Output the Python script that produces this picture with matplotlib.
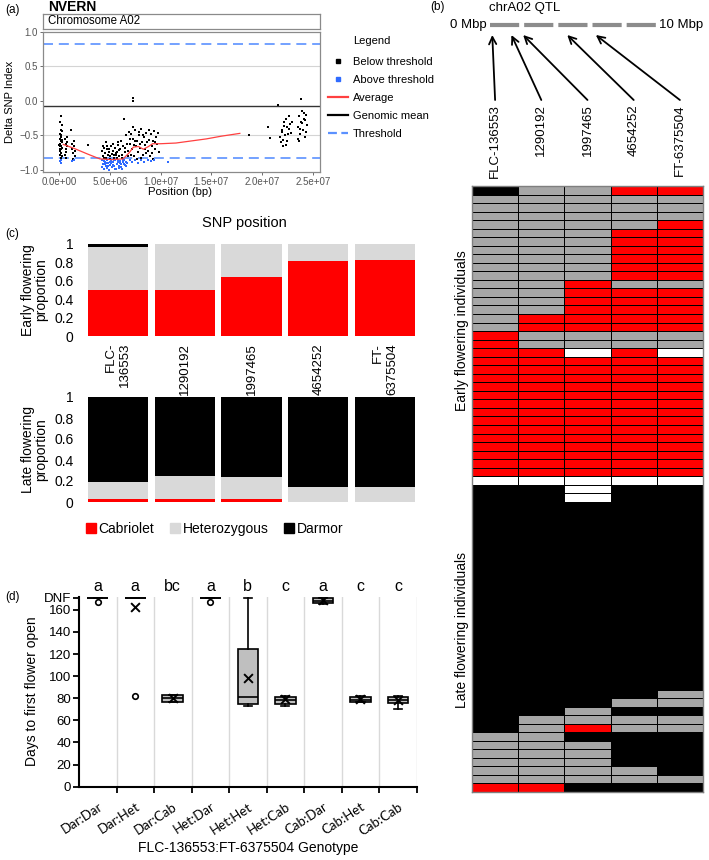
import numpy as np
import matplotlib
matplotlib.use('Agg')
import matplotlib.pyplot as plt
from matplotlib.colors import ListedColormap
from matplotlib.lines import Line2D

plt.rcParams['font.family'] = ['Liberation Sans', 'DejaVu Sans']

W, H = 709, 860


def box(l, t, r, b):
    # pixel box -> figure fraction rect
    return [l / W, 1 - b / H, (r - l) / W, (b - t) / H]


# ---------------- data ----------------
# (a) delta SNP index along chromosome A02 (position in Mbp)
below_x = [0.05, 0.08, 0.10, 0.12, 0.15, 0.18, 0.20, 0.22, 0.25, 0.28, 0.06, 0.14, 0.24, 0.30, 0.10, 0.20,
           0.05, 0.17, 0.27, 0.09, 0.13, 0.21, 0.26, 0.02,
           0.60, 0.65, 0.70, 0.75, 0.60, 0.70, 0.80, 0.65, 0.80,
           1.20, 1.25, 1.30, 1.40, 1.50, 1.55, 1.35, 1.45, 1.60, 2.85,
           4.2, 4.3, 4.4, 4.5, 4.6, 4.7, 4.8, 4.9, 5.0, 5.1, 5.2, 5.3, 5.4, 5.5, 5.6, 5.7, 5.8, 5.9,
           4.35, 4.65, 4.95, 5.25, 5.55, 5.85, 4.45, 5.05, 5.65, 4.75, 5.35, 5.75,
           6.0, 6.1, 6.2, 6.3, 6.4, 6.5, 6.6, 6.7, 6.8, 6.9, 6.15, 6.45, 6.75, 6.95,
           7.0, 7.1, 7.2, 7.3, 7.4, 7.5, 7.6, 7.7, 7.8, 7.9, 8.0, 8.1, 8.2, 8.3, 8.4, 8.5, 8.6, 8.7,
           8.8, 8.9, 9.0, 9.1, 9.2, 9.3, 9.4, 9.5, 9.6, 9.7, 9.8, 7.05, 7.35, 7.65, 7.95, 8.25, 8.55,
           8.85, 9.15, 9.45, 7.45, 8.05, 8.65, 9.25, 7.25, 7.85, 8.45, 7.3, 7.3,
           18.7, 20.6, 20.8, 21.6, 23.8,
           21.8, 21.9, 22.0, 22.1, 22.2, 22.3, 22.4, 22.5, 22.6, 22.7, 22.8, 22.9, 22.05, 22.25,
           22.45, 22.65, 22.15, 22.35, 21.95,
           23.5, 23.6, 23.7, 23.8, 23.9, 24.0, 24.1, 24.2, 24.3, 24.4, 23.55, 23.75, 23.95, 24.15,
           24.35, 23.65, 24.25]
below_y = [-0.55, -0.62, -0.48, -0.70, -0.58, -0.66, -0.52, -0.75, -0.60, -0.68, -0.78, -0.82, -0.44, -0.35,
           -0.30, -0.22, -0.72, -0.50, -0.80, -0.65, -0.42, -0.70, -0.56, -0.64,
           -0.55, -0.62, -0.70, -0.60, -0.78, -0.82, -0.66, -0.74, -0.52,
           -0.42, -0.62, -0.70, -0.76, -0.66, -0.80, -0.84, -0.58, -0.72, -0.64,
           -0.72, -0.80, -0.68, -0.76, -0.82, -0.70, -0.78, -0.74, -0.80, -0.66, -0.77, -0.72, -0.82,
           -0.68, -0.79, -0.74, -0.64, -0.80,
           -0.66, -0.60, -0.70, -0.63, -0.76, -0.71, -0.83, -0.84, -0.83, -0.65, -0.79, -0.60,
           -0.70, -0.58, -0.78, -0.66, -0.26, -0.74, -0.50, -0.62, -0.80, -0.45, -0.82, -0.68, -0.72,
           -0.55,
           -0.62, -0.48, -0.70, -0.55, -0.80, -0.42, -0.66, -0.58, -0.74, -0.50, -0.68, -0.40, -0.60,
           -0.78, -0.52, -0.64, -0.46, -0.72,
           -0.56, -0.80, -0.48, -0.66, -0.58, -0.44, -0.70, -0.52, -0.62, -0.47, -0.74, -0.78, -0.64,
           -0.84, -0.62, -0.50, -0.76,
           -0.42, -0.76, -0.60, -0.58, -0.82, -0.60, -0.84, -0.38, -0.45, -0.70, 0.04, 0.00,
           -0.49, -0.38, -0.54, -0.06, 0.03,
           -0.52, -0.60, -0.42, -0.56, -0.30, -0.64, -0.38, -0.48, -0.22, -0.34, -0.46, -0.30, -0.66,
           -0.50, -0.58, -0.40, -0.36, -0.26, -0.45,
           -0.38, -0.22, -0.48, -0.30, -0.15, -0.42, -0.26, -0.52, -0.20, -0.35, -0.55, -0.40, -0.32,
           -0.18, -0.45, -0.58, -0.28]
above_x = [0.10, 0.15, 0.22, 1.30, 1.50,
           4.2, 4.3, 4.4, 4.5, 4.6, 4.7, 4.8, 4.9, 5.0, 5.1, 5.2, 5.3, 5.4, 5.5, 5.6, 5.7, 5.8, 5.9,
           6.0, 6.1, 6.2, 6.3, 6.4, 6.5, 6.6, 6.7, 4.25, 4.55, 4.85, 5.15, 5.45, 5.75, 6.05, 6.35,
           4.45, 4.75, 5.05, 5.35, 5.65, 5.95, 6.25, 6.55, 4.65, 5.25, 5.85,
           7.0, 7.2, 7.5, 7.8, 8.1, 8.4, 8.7, 9.0, 9.3, 10.7]
above_y = [-0.87, -0.90, -0.86, -0.87, -0.86,
           -0.86, -0.92, -0.98, -0.88, -0.95, -0.85, -0.90, -1.00, -0.93, -0.87, -0.96, -0.89, -0.94,
           -0.86, -0.99, -0.91, -0.88, -0.95,
           -0.87, -0.92, -0.98, -0.89, -0.85, -0.93, -0.88, -0.90, -0.96, -0.91, -0.94, -0.90, -0.98,
           -0.85, -0.96, -0.91,
           -0.87, -0.97, -0.88, -0.86, -0.92, -0.90, -0.86, -0.95, -0.90, -0.93, -0.97,
           -0.86, -0.88, -0.85, -0.90, -0.86, -0.88, -0.85, -0.87, -0.86, -0.89]
avg_x = [0.4, 1.5, 2.8, 4.0, 5.2, 6.3, 6.9, 7.3, 7.8, 8.3, 8.8, 9.2, 10.0, 11.5, 13.0, 14.5, 16.0, 17.8]
avg_y = [-0.63, -0.69, -0.77, -0.84, -0.85, -0.84, -0.75, -0.67, -0.66, -0.70, -0.66, -0.62,
         -0.62, -0.61, -0.58, -0.55, -0.51, -0.47]
genomic_mean = -0.08
threshold = 0.83

# (b) SNPs in the chrA02 QTL
snp_names = ['FLC-136553', '1290192', '1997465', '4654252', 'FT-6375504']
snp_bp = [136553, 1290192, 1997465, 4654252, 6375504]

# (b) genotypes per individual: C = Cabriolet, H = heterozygous, D = Darmor, - = missing
early_rows = ['DHHCC', 'HHHHH', 'HHHHH', 'HHHHH', 'HHHHC', 'HHHCC', 'HHHCC', 'HHHCC', 'HHHCC',
              'HHHCC', 'HHHCC', 'HHCHH', 'HHCCC', 'HHCCC', 'HHCCC', 'HCCCC', 'HCCCC', 'CHHHH',
              'CHHHH', 'CC-C-', 'CCCCC', 'CCCCC', 'CCCCC', 'CCCCC', 'CCCCC', 'CCCCC', 'CCCCC',
              'CCCCC', 'CCCCC', 'CCCCC', 'CCCCC', 'CCCCC', 'CCCCC', 'CCCCC']
late_rows = ['DD-DD', 'DD-DD', 'DDDDD', 'DDDDD', 'DDDDD', 'DDDDD', 'DDDDD', 'DDDDD', 'DDDDD',
             'DDDDD', 'DDDDD', 'DDDDD', 'DDDDD', 'DDDDD', 'DDDDD', 'DDDDD', 'DDDDD', 'DDDDD',
             'DDDDD', 'DDDDD', 'DDDDD', 'DDDDD', 'DDDDD', 'DDDDD', 'DDDDH', 'DDDHH', 'DDHDD',
             'DHHHH', 'DHCHH', 'HHDDD', 'HHHDD', 'HHHDD', 'HHHDD', 'HHHHD', 'HHHHH', 'CCDDD']

# (c) genotype proportions
bar_labels = ['FLC-\n136553', '1290192', '1997465', '4654252', 'FT-\n6375504']
early_cab = [0.50, 0.50, 0.64, 0.81, 0.83]
early_het = [0.47, 0.50, 0.36, 0.19, 0.17]
early_dar = [0.03, 0.00, 0.00, 0.00, 0.00]
late_cab = [0.03, 0.03, 0.03, 0.00, 0.00]
late_het = [0.16, 0.22, 0.21, 0.14, 0.14]
late_dar = [0.81, 0.75, 0.76, 0.86, 0.86]

# (d) days to first flower (DNF plotted at 171)
geno = ['Dar:Dar', 'Dar:Het', 'Dar:Cab', 'Het:Dar', 'Het:Het', 'Het:Cab', 'Cab:Dar', 'Cab:Het', 'Cab:Cab']
whislo = [171, 171, 77, 171, 73, 73, 165, 77, 70]
q1 = [171, 171, 77, 171, 74.5, 75, 166, 77, 75.5]
med = [171, 171, 80, 171, 81, 78, 168, 78.5, 78]
q3 = [171, 171, 83, 171, 125, 81, 171, 81, 81.5]
whishi = [171, 171, 83, 171, 171, 82, 171, 82, 82]
means = [np.nan, 163, 80, np.nan, 98, 79, 168.5, 79, 78]
outliers = [[167], [82], [], [167], [], [], [], [], []]
letters = ['a', 'a', 'bc', 'a', 'b', 'c', 'a', 'c', 'c']
dnf = 171

RED = '#ff0000'
LGRAY = '#d9d9d9'
MGRAY = '#a6a6a6'
BLUE_PT = '#2f6bff'
BLUE_LN = '#5b91ff'

fig = plt.figure(figsize=(W / 100, H / 100), dpi=100)
fig.patch.set_facecolor('white')

# ---------------- (a) ----------------
axA = fig.add_axes(box(43, 32, 320, 172))
for yv in (0.5, -0.5):
    axA.axhline(yv, color='#d4d4d4', lw=0.8, zorder=0)
axA.axhline(genomic_mean, color='#333333', lw=1.0, zorder=1)
for yv in (threshold, -threshold):
    axA.axhline(yv, color=BLUE_LN, lw=1.2, dashes=(6, 3.5), zorder=1)
axA.scatter(np.array(below_x) * 1e6, below_y, s=2.2, c='black', marker='s', linewidths=0, zorder=2)
axA.scatter(np.array(above_x) * 1e6, above_y, s=2.2, c=BLUE_PT, marker='s', linewidths=0, zorder=2)
axA.plot(np.array(avg_x) * 1e6, avg_y, color='#ff4040', lw=0.9, zorder=3)
axA.set_xlim(-1.6e6, 25.7e6)
axA.set_ylim(-1.03, 1.0)
axA.set_xticks([0, 5e6, 1e7, 1.5e7, 2e7, 2.5e7],
               ['0.0e+00', '5.0e+06', '1.0e+07', '1.5e+07', '2.0e+07', '2.5e+07'])
axA.set_yticks([-1, -0.5, 0, 0.5, 1], ['\u22121.0', '\u22120.5', '0.0', '0.5', '1.0'])
axA.tick_params(labelsize=7, labelcolor='#555555', color='#555555', length=2, pad=1.5, width=0.6)
for s in axA.spines.values():
    s.set_color('#8a8a8a')
    s.set_linewidth(0.9)
axA.text(-0.119, 0.5, 'Delta SNP Index', transform=axA.transAxes, rotation=90,
         ha='center', va='center', fontsize=8)
axA.text(0.495, -0.143, 'Position (bp)', transform=axA.transAxes, ha='center', va='center', fontsize=8.2)

strip = fig.add_axes(box(43, 14, 320, 29))
strip.set_xticks([])
strip.set_yticks([])
for s in strip.spines.values():
    s.set_color('#8a8a8a')
    s.set_linewidth(0.9)
strip.text(0.018, 0.5, 'Chromosome A02', transform=strip.transAxes, ha='left', va='center', fontsize=8.3)

fig.text(48 / W, 1 - 7 / H, 'NVERN', fontsize=10, fontweight='bold', ha='left', va='center')
fig.text(5 / W, 1 - 10 / H, '(a)', fontsize=8.5, ha='left', va='center')

fig.text(353 / W, 1 - 41 / H, 'Legend', fontsize=8, ha='left', va='center')
handles_a = [Line2D([], [], marker='s', ls='none', color='black', markersize=2.2),
             Line2D([], [], marker='s', ls='none', color=BLUE_PT, markersize=2.2),
             Line2D([], [], color='#ff4040', lw=1.6),
             Line2D([], [], color='black', lw=1.6),
             Line2D([], [], color=BLUE_LN, lw=1.6, dashes=(4, 2))]
fig.legend(handles_a, ['Below threshold', 'Above threshold', 'Average', 'Genomic mean', 'Threshold'],
           loc='upper left', bbox_to_anchor=(328 / W, 1 - 57 / H), frameon=False, fontsize=8,
           handlelength=1.8, handletextpad=0.45, labelspacing=0.72, borderpad=0, borderaxespad=0)

# ---------------- (b) ----------------
col_w = (703 - 472) / 5
axB = fig.add_axes(box(421, 0, 709, 186))
axB.set_facecolor('white')
axB.set_xlim((421 - 472) / col_w, (709 - 472) / col_w)
axB.set_ylim(186, 0)
axB.set_xticks([])
axB.set_yticks([])
for s in axB.spines.values():
    s.set_visible(False)

bar0, bar1 = (490 - 472) / col_w, (656 - 472) / col_w


def mb2col(m):
    return bar0 + m / 10 * (bar1 - bar0)


axB.text((430 - 472) / col_w, 7, '(b)', fontsize=8.5, ha='left', va='center')
axB.text((489 - 472) / col_w, 8, 'chrA02 QTL', fontsize=9.5, ha='left', va='center')
axB.plot([mb2col(0), mb2col(10)], [25, 25], color='#8c8c8c', lw=3, dashes=(7.0, 1.2),
         dash_capstyle='butt')
axB.text(mb2col(0) - 0.07, 25, '0 Mbp', fontsize=9.5, ha='right', va='center')
axB.text(mb2col(10) + 0.06, 25, '10 Mbp', fontsize=9.5, ha='left', va='center')
for i, (name, bp) in enumerate(zip(snp_names, snp_bp)):
    axB.annotate('', xy=(mb2col(bp / 1e6), 35), xytext=(i + 0.5, 100),
                 arrowprops=dict(arrowstyle='->', lw=1.3, color='black', shrinkA=0, shrinkB=0,
                                 mutation_scale=13))
    axB.text(i + 0.5, 104, name, rotation=90, ha='center', va='top', fontsize=9.5)

# heatmap of individuals
code = {'C': 0, 'H': 1, 'D': 2, '-': 3}
n_rows = len(early_rows) + 1 + len(late_rows)
mat = np.full((n_rows, 5), np.nan)
for i, r in enumerate(early_rows):
    mat[i] = [code[c] for c in r]
for i, r in enumerate(late_rows):
    mat[len(early_rows) + 1 + i] = [code[c] for c in r]

axH = fig.add_axes(box(472, 186, 703, 792))
axH.pcolormesh(np.arange(6), np.arange(n_rows + 1), np.ma.masked_invalid(mat),
               cmap=ListedColormap([RED, MGRAY, 'black', 'white']), vmin=-0.5, vmax=3.5,
               edgecolors='black', linewidth=0.5)
axH.set_xlim(0, 5)
axH.set_ylim(n_rows, 0)
axH.set_xticks([])
axH.set_yticks([])
for s in axH.spines.values():
    s.set_color('#7f7f7f')
    s.set_linewidth(1)
axH.text(-0.21, len(early_rows) / 2, 'Early flowering individuals', rotation=90,
         ha='center', va='center', fontsize=10)
axH.text(-0.21, len(early_rows) + 1 + len(late_rows) / 2 - 1, 'Late flowering individuals',
         rotation=90, ha='center', va='center', fontsize=10)

# ---------------- (c) ----------------
fig.text(5 / W, 1 - 234 / H, '(c)', fontsize=8.5, ha='left', va='center')
fig.text(244 / W, 1 - 223 / H, 'SNP position', fontsize=10.5, ha='center', va='center')
xs = np.arange(5)
axC1 = fig.add_axes(box(84.6, 244, 418.4, 336))
axC2 = fig.add_axes(box(84.6, 397, 418.4, 502))
for ax, cab, het, dar, ylab in ((axC1, early_cab, early_het, early_dar, 'Early flowering\nproportion'),
                                (axC2, late_cab, late_het, late_dar, 'Late flowering\nproportion')):
    cab, het, dar = np.array(cab), np.array(het), np.array(dar)
    ax.bar(xs, cab, 0.9, color=RED)
    ax.bar(xs, het, 0.9, bottom=cab, color=LGRAY)
    ax.bar(xs, dar, 0.9, bottom=cab + het, color='black')
    ax.set_xlim(-0.5, 4.5)
    ax.set_ylim(0, 1)
    ax.set_yticks([0, 0.2, 0.4, 0.6, 0.8, 1], ['0', '0.2', '0.4', '0.6', '0.8', '1'])
    ax.tick_params(axis='y', length=0, pad=8, labelsize=10)
    for s in ax.spines.values():
        s.set_visible(False)
    ax.text(-0.15, 0.5, ylab, transform=ax.transAxes, rotation=90, ha='center', va='center',
            fontsize=10, linespacing=1.0)
axC1.set_xticks(xs, bar_labels, rotation=90, fontsize=9.5, ma='right')
axC1.tick_params(axis='x', length=0, pad=5)
axC2.set_xticks([])

handles_c = [Line2D([], [], marker='s', ls='none', color=c, markersize=6.5) for c in (RED, LGRAY, 'black')]
fig.legend(handles_c, ['Cabriolet', 'Heterozygous', 'Darmor'], ncol=3, loc='center',
           bbox_to_anchor=(215 / W, 1 - 529 / H), frameon=False, fontsize=10, handlelength=0.6,
           handletextpad=0.25, columnspacing=1.2)

# ---------------- (d) ----------------
fig.text(5 / W, 1 - 597 / H, '(d)', fontsize=8.5, ha='left', va='center')
axD = fig.add_axes(box(79, 596.6, 416.7, 786.7))
stats = [dict(label=g, whislo=a, q1=b, med=c, q3=d, whishi=e, fliers=f)
         for g, a, b, c, d, e, f in zip(geno, whislo, q1, med, q3, whishi, outliers)]
pos = np.arange(len(geno))
axD.bxp(stats, positions=pos, widths=0.55, showmeans=False, patch_artist=True, capwidths=0.22,
        boxprops=dict(facecolor='#bfbfbf', edgecolor='black', linewidth=1.2),
        medianprops=dict(color='black', linewidth=1.2),
        whiskerprops=dict(color='black', linewidth=1.2),
        capprops=dict(color='black', linewidth=1.2),
        flierprops=dict(marker='o', markerfacecolor='white', markeredgecolor='black',
                        markersize=4, markeredgewidth=1.2))
axD.scatter(pos, means, marker='x', color='black', s=40, linewidths=1.4, zorder=5)
for p, l in zip(pos, letters):
    axD.text(p, 181, l, ha='center', va='center', fontsize=11.5, clip_on=False)
axD.set_xlim(-0.5, len(geno) - 0.5)
axD.set_ylim(0, dnf + 1)
axD.set_yticks([0, 20, 40, 60, 80, 100, 120, 140, 160, dnf],
               ['0', '20', '40', '60', '80', '100', '120', '140', '160', 'DNF'])
axD.set_xticks(pos)
axD.set_xticklabels(geno, rotation=33, ha='right', va='top', rotation_mode='anchor',
                    fontsize=9.5, family=['Lato', 'DejaVu Sans'])
axD.set_xticks(np.arange(0.5, len(geno)), minor=True)
axD.tick_params(axis='x', which='major', length=0, pad=10)
axD.tick_params(axis='x', which='minor', length=4, width=1.3, direction='out')
axD.tick_params(axis='y', length=4, width=1.3, labelsize=9.5, pad=1.5)
axD.grid(axis='x', which='minor', color='#d9d9d9', lw=1)
axD.set_axisbelow(True)
for side in ('top', 'right'):
    axD.spines[side].set_visible(False)
for side in ('left', 'bottom'):
    axD.spines[side].set_linewidth(1.5)
axD.text(-0.139, 0.5, 'Days to first flower open', transform=axD.transAxes, rotation=90,
         ha='center', va='center', fontsize=10)
axD.text(0.5, -0.324, 'FLC-136553:FT-6375504 Genotype', transform=axD.transAxes,
         ha='center', va='center', fontsize=10)

fig.savefig('out.png', dpi=100, facecolor='white')
